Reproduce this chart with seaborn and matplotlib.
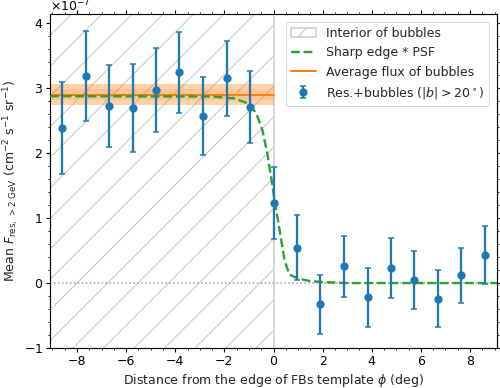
import numpy as np
import matplotlib
matplotlib.use("Agg")
import matplotlib.pyplot as plt
import seaborn as sns
import pandas as pd
from matplotlib.patches import Patch, Rectangle
from matplotlib.lines import Line2D
from matplotlib.collections import LineCollection
from matplotlib.transforms import IdentityTransform, ScaledTranslation
from matplotlib.legend_handler import HandlerBase

# ---- data (units of 1e-7 cm^-2 s^-1 sr^-1) ----
phi = [-8.61, -7.65, -6.70, -5.74, -4.78, -3.83, -2.87, -1.91, -0.96, 0.0,
       0.96, 1.91, 2.87, 3.83, 4.78, 5.74, 6.70, 7.65, 8.61]
flux = [2.39, 3.19, 2.72, 2.69, 2.97, 3.24, 2.57, 3.15, 2.71, 1.23,
        0.54, -0.33, 0.26, -0.22, 0.23, 0.05, -0.24, 0.12, 0.43]
flux_err = [0.71, 0.69, 0.63, 0.68, 0.64, 0.63, 0.60, 0.58, 0.55, 0.56,
            0.50, 0.46, 0.47, 0.45, 0.46, 0.45, 0.44, 0.42, 0.44]

psf_x = [-9.1, -2.5, -1.6, -1.0, -0.7, -0.45, -0.25, -0.08, 0.07, 0.25,
         0.45, 0.65, 1.0, 1.5, 2.0, 3.0, 9.1]
psf_y = [2.875, 2.87, 2.84, 2.76, 2.61, 2.35, 1.99, 1.58, 1.22, 0.81,
         0.35, 0.13, 0.07, 0.03, 0.015, 0.0, 0.0]

avg_flux = 2.90
avg_err_outer = 0.16
avg_err_inner = 0.08
scale = 1e-7

labels = ["Interior of bubbles", "Sharp edge * PSF",
          "Average flux of bubbles", r"Res.+bubbles ($|b|>20^\circ$)"]
xlabel = r"Distance from the edge of FBs template $\phi$ (deg)"
ylabel = r"Mean $F_{\rm res,\,>2\ GeV}$ (cm$^{-2}$ s$^{-1}$ sr$^{-1}$)"

FS = 5.0
DPI = 180
HATCH_C = "#cbcbcb"
# ---- style ----
sns.set_theme(style="ticks")
plt.rcParams["font.family"] = ["DejaVu Sans"]
plt.rcParams.update({
    "font.size": FS,
    "axes.labelsize": FS,
    "xtick.labelsize": FS,
    "ytick.labelsize": FS,
    "legend.fontsize": FS,
    "axes.linewidth": 0.45,
    "axes.edgecolor": "black",
    "xtick.major.width": 0.45, "ytick.major.width": 0.45,
    "xtick.minor.width": 0.35, "ytick.minor.width": 0.35,
    "xtick.major.size": 1.6, "ytick.major.size": 1.6,
    "xtick.minor.size": 0.9, "ytick.minor.size": 0.9,
    "xtick.major.pad": 1.2, "ytick.major.pad": 1.2,
    "xtick.color": "black", "ytick.color": "black",
    "axes.labelcolor": "#222222",
})


class HatchHandler(HandlerBase):
    def create_artists(self, legend, orig_handle, xdescent, ydescent,
                       width, height, fontsize, trans):
        r = Rectangle((-xdescent, -ydescent), width, height, facecolor="white",
                      edgecolor=HATCH_C, linewidth=0.6, transform=trans)
        ln = Line2D([-xdescent + 0.30 * width, -xdescent + 0.62 * width],
                    [-ydescent, -ydescent + height], color=HATCH_C,
                    linewidth=0.45, transform=trans)
        return [r, ln]


fig = plt.figure(figsize=(500 / DPI, 388 / DPI), dpi=DPI)
ax = fig.add_axes([0.10, 0.103, 0.894, 0.861])

xlo, xhi = -9.1, 9.1
ylo, yhi = -1.0, 4.14
ax.set_xlim(xlo, xhi)
ax.set_ylim(ylo * scale, yhi * scale)

# hatched interior region (x < 0): diagonal hatch lines clipped to it
region = Rectangle((xlo, ylo * scale), 0 - xlo, (yhi - ylo) * scale,
                   transform=ax.transData, fill=False, linewidth=0)
ax.add_patch(region)
bb = ax.get_window_extent()
spacing = 30.5
segs = [[(bb.x0 - 600, bb.y0 - 600 + c), (bb.x0 + 900, bb.y0 + 900 + c)]
        for c in np.arange(38 - 40 * spacing, 38 + 40 * spacing, spacing)]
hatch_lines = LineCollection(segs, colors=HATCH_C, linewidths=0.45,
                             transform=IdentityTransform(), zorder=0)
ax.add_collection(hatch_lines, autolim=False)
hatch_lines.set_clip_path(region)
ax.axvline(0, color=HATCH_C, linewidth=0.6, zorder=0)
ax.axhline(0, color="0.6", linestyle=":", linewidth=0.6, zorder=1)

# average flux band (over the interior)
ax.fill_between([xlo, 0], [(avg_flux - avg_err_outer) * scale] * 2,
                [(avg_flux + avg_err_outer) * scale] * 2,
                color="tab:orange", alpha=0.35, linewidth=0, zorder=1)
ax.fill_between([xlo, 0], [(avg_flux - avg_err_inner) * scale] * 2,
                [(avg_flux + avg_err_inner) * scale] * 2,
                color="tab:orange", alpha=0.15, linewidth=0, zorder=1)
ax.plot([xlo, 0], [avg_flux * scale] * 2, color="tab:orange",
        linewidth=0.8, zorder=2)

# PSF convolved edge
df_psf = pd.DataFrame({"x": psf_x, "y": np.array(psf_y) * scale})
sns.lineplot(data=df_psf, x="x", y="y", ax=ax, color="tab:green",
             linestyle="--", linewidth=0.95, zorder=3)

# data
eb = ax.errorbar(phi, np.array(flux) * scale, yerr=np.array(flux_err) * scale,
                 fmt="o", color="tab:blue", markersize=2.3, elinewidth=0.9,
                 capsize=1.4, capthick=0.6, zorder=4)

ax.set_xticks([-8, -6, -4, -2, 0, 2, 4, 6, 8])
ax.ticklabel_format(axis="y", style="sci", scilimits=(0, 0), useMathText=True)
ax.minorticks_on()
ax.tick_params(which="both", direction="out", top=True, right=True)
ot = ax.yaxis.get_offset_text()
ot.set_fontsize(FS)
ot.set_transform(ot.get_transform() +
                 ScaledTranslation(0, -4.5 / DPI, fig.dpi_scale_trans))

ax.set_xlabel(xlabel, labelpad=1.5)
ax.set_ylabel(ylabel, labelpad=1.2)

hatch_handle = Patch(facecolor="white", edgecolor=HATCH_C)
handles = [
    hatch_handle,
    Line2D([], [], color="tab:green", linestyle="--", linewidth=0.95),
    Line2D([], [], color="tab:orange", linewidth=0.8),
    eb,
]
leg = ax.legend(handles, labels, loc="upper right", frameon=True,
                borderaxespad=0.65, handlelength=2.0, fancybox=True,
                handler_map={hatch_handle: HatchHandler()})
leg.get_frame().set_linewidth(0.4)
leg.get_frame().set_edgecolor("#cccccc")

fig.savefig("out.png", dpi=DPI)
